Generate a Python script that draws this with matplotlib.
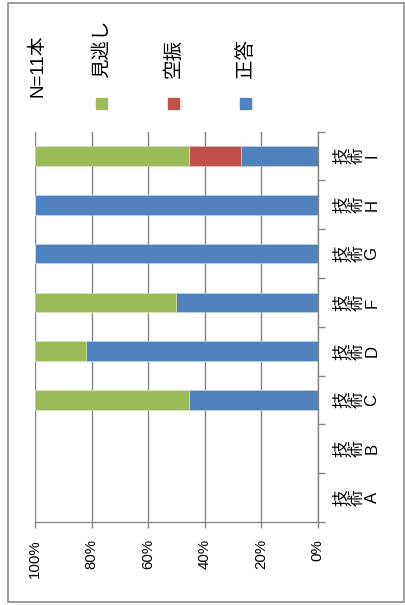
import matplotlib
matplotlib.use("Agg")
import matplotlib.pyplot as plt
from matplotlib.patches import Rectangle
import numpy as np

plt.rcParams['font.family'] = ['Liberation Sans', 'Noto Sans CJK JP', 'DejaVu Sans']

categories = ["技術A", "技術B", "技術C", "技術D", "技術F", "技術G", "技術H", "技術I"]
series_names = ["見逃し", "空振", "正答"]
seikai = [0, 0, 45.5, 81.8, 50.0, 100, 100, 27.3]     # 正答
karaburi = [0, 0, 0, 0, 0, 0, 0, 18.2]                # 空振
minogashi = [0, 0, 54.5, 18.2, 50.0, 0, 0, 54.5]       # 見逃し
x_ticks = [0, 20, 40, 60, 80, 100]
x_ticklabels = ["0%", "20%", "40%", "60%", "80%", "100%"]
note = "N=11本"

colors = {"見逃し": "#9BBB59", "空振": "#C0504D", "正答": "#4F81BD"}
grid_c = "#868686"

W, H = 406, 605
fig = plt.figure(figsize=(W / 100, H / 100), dpi=100)

def fx(px):
    return px / W

def fy(py):
    return 1 - py / H

# chart area border
fig.patches.append(Rectangle((fx(8), fy(602)), fx(404) - fx(8), fy(3) - fy(602),
                             transform=fig.transFigure, fill=False,
                             edgecolor="#8c8c8c", lw=1.2))

ax = fig.add_axes([fx(35), fy(522), fx(317.7) - fx(35), fy(131.7) - fy(522)])

y = np.arange(len(categories))
blue = np.array(seikai)
red = np.array(karaburi)
green = np.array(minogashi)
bh = 0.4
ax.barh(y, blue, height=bh, color=colors["正答"], edgecolor="#c5d3e8", lw=0.5, zorder=3)
ax.barh(y, red, left=blue, height=bh, color=colors["空振"], edgecolor="#e6b8b7", lw=0.5, zorder=3)
ax.barh(y, green, left=blue + red, height=bh, color=colors["見逃し"], edgecolor="#d7e4bd", lw=0.5, zorder=3)

ax.set_xlim(100, 0)
ax.set_ylim(-0.5, len(categories) - 0.5)

for s in ["top", "left"]:
    ax.spines[s].set_visible(False)
for s in ["right", "bottom"]:
    ax.spines[s].set_color(grid_c)
    ax.spines[s].set_linewidth(1.0)

ax.set_xticks(x_ticks)
ax.set_xticklabels(x_ticklabels, rotation=90, fontsize=10.8)
ax.xaxis.grid(True, color=grid_c, lw=1.0, zorder=0)
ax.tick_params(axis="x", direction="out", length=4.5, width=1, color=grid_c, pad=8)

ax.yaxis.tick_right()
ax.set_yticks(y)
labels = [c[0] + "\n" + c[1] + "\n" + c[2:] for c in categories]
ax.set_yticklabels(labels, rotation=90, fontsize=12, va="center", ha="left",
                   multialignment="center", linespacing=1.0)
ax.set_yticks(np.arange(-0.5, len(categories), 1), minor=True)
ax.tick_params(axis="y", which="major", length=0, pad=12)
ax.tick_params(axis="y", which="minor", direction="out", length=5, width=1, color=grid_c)

# legend (rotated as in the original)
leg_x = [102, 174, 245.5]
for name, lx in zip(series_names, leg_x):
    fig.text(fx(lx), fy(78), name, rotation=90, ha="center", va="bottom", fontsize=14)
    fig.patches.append(Rectangle((fx(lx - 5.5), fy(109)), 11 / W, 11 / H,
                                 transform=fig.transFigure, color=colors[name]))

fig.text(fx(37.5), fy(96.5), note, rotation=90, ha="center", va="bottom", fontsize=13.5)

fig.savefig("out.png", dpi=100)
